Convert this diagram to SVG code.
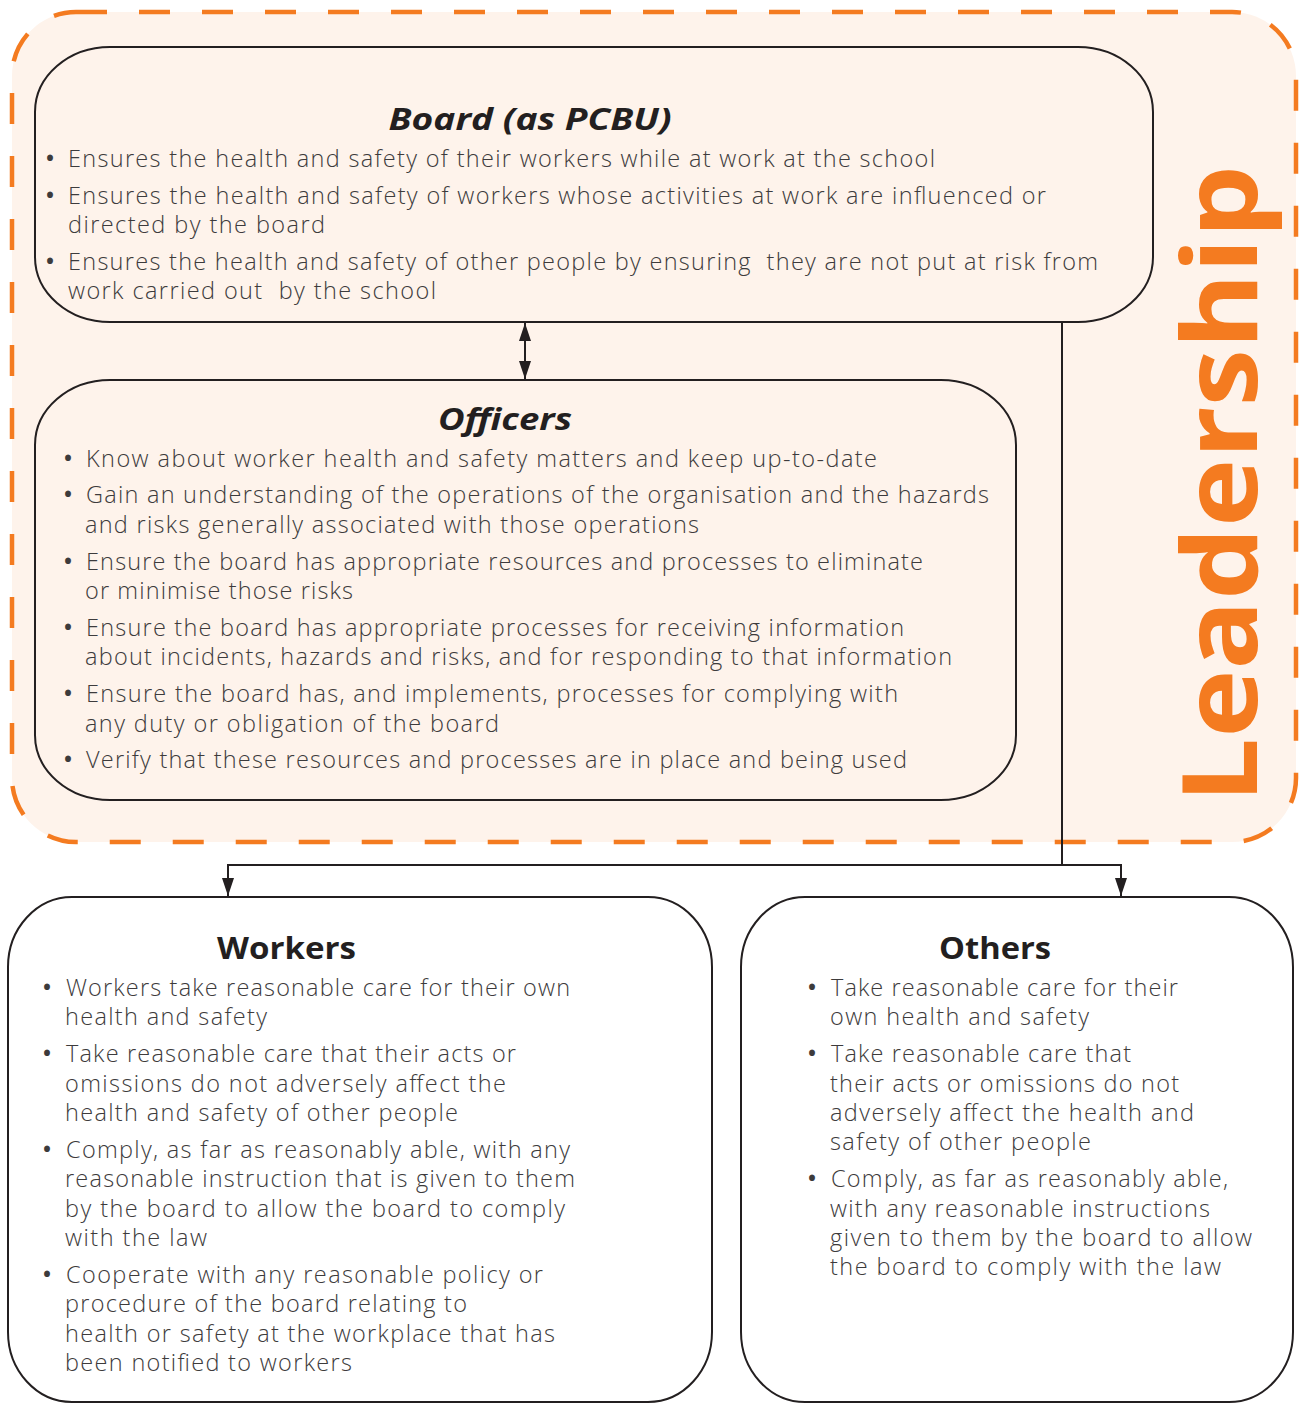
<svg xmlns="http://www.w3.org/2000/svg" width="1309" height="1403" viewBox="0 0 1309 1403">
<style>
.box{fill:none;stroke:#231f20;stroke-width:2}
.t{font-family:"Open Sans","Liberation Sans",sans-serif;font-size:23.5px;font-weight:300;fill:#3d3b3c;white-space:pre}
.b{font-family:"Open Sans","Liberation Sans",sans-serif;font-size:28px;fill:#3d3b3c;text-anchor:middle}
.h{font-family:"Open Sans","Liberation Sans",sans-serif;font-size:31px;font-weight:700;fill:#231f20;text-anchor:middle}
.hi{font-style:italic}
.conn{fill:none;stroke:#231f20;stroke-width:2}
</style>
<defs>
<marker id="ah" viewBox="0 0 18 12" refX="18" refY="6" markerWidth="18" markerHeight="12" markerUnits="userSpaceOnUse" orient="auto-start-reverse">
<path d="M0,0 L18,6 L0,12 z" fill="#231f20"/>
</marker>
</defs>
<rect width="1309" height="1403" fill="#ffffff"/>
<g id="leadership">
<rect x="12" y="12" width="1284" height="830" rx="64" ry="64" fill="#fef3eb" stroke="#f47b20" stroke-width="4.5" stroke-dasharray="31 32"/>
<text transform="translate(1257,803) rotate(-90)" font-family="'Open Sans','Liberation Sans',sans-serif" font-size="104" font-weight="700" fill="#f47b20" textLength="638" lengthAdjust="spacingAndGlyphs">Leadership</text>
</g>
<g id="connectors">
<path class="conn" d="M525,323 L525,379" marker-start="url(#ah)" marker-end="url(#ah)"/>
<path class="conn" d="M1062,322 L1062,865"/>
<path class="conn" d="M1062,865 L228,865 L228,896" marker-end="url(#ah)"/>
<path class="conn" d="M1062,865 L1121,865 L1121,896" marker-end="url(#ah)"/>
</g>
<g id="board">
<rect class="box" x="35" y="47" width="1118" height="275" rx="75" ry="65"/>
<text class="h hi" x="530" y="130" textLength="283" lengthAdjust="spacingAndGlyphs">Board (as PCBU)</text>
<text class="b" x="50" y="168">•</text>
<text class="t" x="68" y="167" textLength="867">Ensures the health and safety of their workers while at work at the school</text>
<text class="b" x="50" y="205">•</text>
<text class="t" x="68" y="204" textLength="978">Ensures the health and safety of workers whose activities at work are influenced or</text>
<text class="t" x="68" y="233" textLength="257">directed by the board</text>
<text class="b" x="50" y="271">•</text>
<text class="t" x="68" y="270" textLength="1030">Ensures the health and safety of other people by ensuring  they are not put at risk from</text>
<text class="t" x="68" y="299" textLength="368">work carried out  by the school</text>
</g>
<g id="officers">
<rect class="box" x="35" y="380" width="981" height="420" rx="75" ry="65"/>
<text class="h hi" x="505" y="430" textLength="134" lengthAdjust="spacingAndGlyphs">Officers</text>
<text class="b" x="68" y="468">•</text>
<text class="t" x="86" y="467" textLength="791">Know about worker health and safety matters and keep up-to-date</text>
<text class="b" x="68" y="504">•</text>
<text class="t" x="86" y="503" textLength="903">Gain an understanding of the operations of the organisation and the hazards</text>
<text class="t" x="85" y="533" textLength="614">and risks generally associated with those operations</text>
<text class="b" x="68" y="571">•</text>
<text class="t" x="86" y="570" textLength="837">Ensure the board has appropriate resources and processes to eliminate</text>
<text class="t" x="85" y="599" textLength="268">or minimise those risks</text>
<text class="b" x="68" y="637">•</text>
<text class="t" x="86" y="636" textLength="818">Ensure the board has appropriate processes for receiving information</text>
<text class="t" x="85" y="665" textLength="867">about incidents, hazards and risks, and for responding to that information</text>
<text class="b" x="68" y="703">•</text>
<text class="t" x="86" y="702" textLength="812">Ensure the board has, and implements, processes for complying with</text>
<text class="t" x="85" y="732" textLength="414">any duty or obligation of the board</text>
<text class="b" x="68" y="769">•</text>
<text class="t" x="86" y="768" textLength="821">Verify that these resources and processes are in place and being used</text>
</g>
<g id="workers">
<rect class="box" x="8" y="897" width="704" height="505" rx="64" ry="70"/>
<text class="h" x="286.5" y="959" textLength="139" lengthAdjust="spacingAndGlyphs">Workers</text>
<text class="b" x="47" y="997">•</text>
<text class="t" x="66" y="996" textLength="504">Workers take reasonable care for their own</text>
<text class="t" x="65" y="1025" textLength="202">health and safety</text>
<text class="b" x="47" y="1063">•</text>
<text class="t" x="66" y="1062" textLength="450">Take reasonable care that their acts or</text>
<text class="t" x="65" y="1092" textLength="441">omissions do not adversely affect the</text>
<text class="t" x="65" y="1121" textLength="393">health and safety of other people</text>
<text class="b" x="47" y="1159">•</text>
<text class="t" x="66" y="1158" textLength="504">Comply, as far as reasonably able, with any</text>
<text class="t" x="65" y="1187" textLength="510">reasonable instruction that is given to them</text>
<text class="t" x="65" y="1217" textLength="500">by the board to allow the board to comply</text>
<text class="t" x="65" y="1246" textLength="142">with the law</text>
<text class="b" x="47" y="1284">•</text>
<text class="t" x="66" y="1283" textLength="477">Cooperate with any reasonable policy or</text>
<text class="t" x="65" y="1312" textLength="402">procedure of the board relating to</text>
<text class="t" x="65" y="1342" textLength="490">health or safety at the workplace that has</text>
<text class="t" x="65" y="1371" textLength="287">been notified to workers</text>
</g>
<g id="others">
<rect class="box" x="741" y="897" width="552" height="505" rx="64" ry="70"/>
<text class="h" x="995" y="959" textLength="112" lengthAdjust="spacingAndGlyphs">Others</text>
<text class="b" x="812" y="997">•</text>
<text class="t" x="831" y="996" textLength="347">Take reasonable care for their</text>
<text class="t" x="830" y="1025" textLength="259">own health and safety</text>
<text class="b" x="812" y="1063">•</text>
<text class="t" x="831" y="1062" textLength="300">Take reasonable care that</text>
<text class="t" x="830" y="1092" textLength="349">their acts or omissions do not</text>
<text class="t" x="830" y="1121" textLength="364">adversely affect the health and</text>
<text class="t" x="830" y="1150" textLength="261">safety of other people</text>
<text class="b" x="812" y="1188">•</text>
<text class="t" x="831" y="1187" textLength="397">Comply, as far as reasonably able,</text>
<text class="t" x="830" y="1217" textLength="380">with any reasonable instructions</text>
<text class="t" x="830" y="1246" textLength="422">given to them by the board to allow</text>
<text class="t" x="830" y="1275" textLength="391">the board to comply with the law</text>
</g>
</svg>
